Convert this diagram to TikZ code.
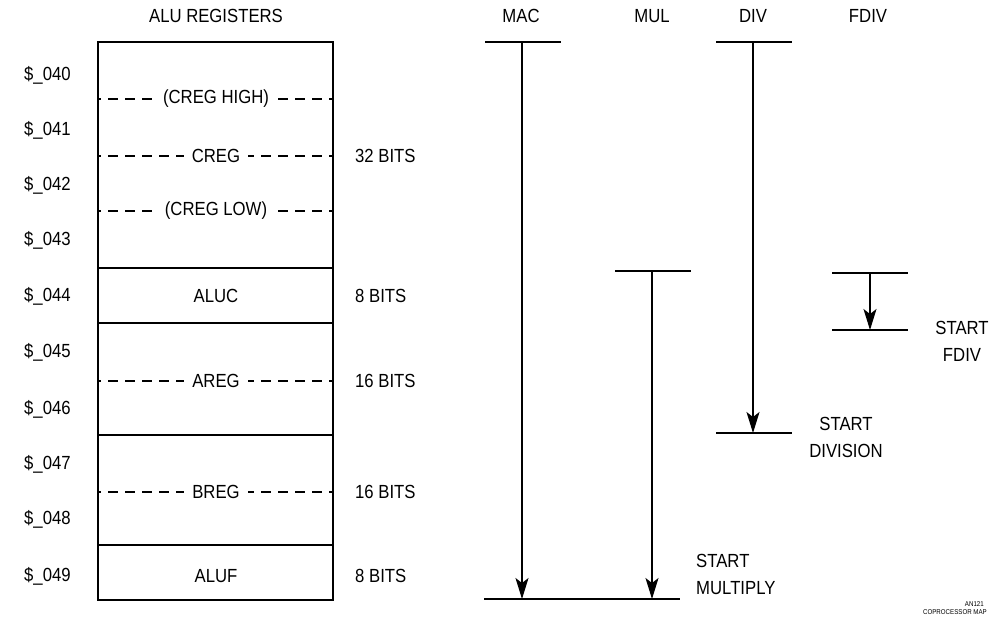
\documentclass[tikz,border=0pt]{standalone}
\usepackage{fontspec}
\setmainfont[FakeStretch=0.88]{Liberation Sans}
\usetikzlibrary{arrows.meta}
\begin{document}
\begin{tikzpicture}[x=1pt, y=-1pt,
  every node/.style={font=\fontsize{19}{27}\selectfont, inner sep=1pt},
  regline/.style={line width=1.2pt},
  dashline/.style={line width=1.2pt, dash pattern=on 10pt off 7pt, dash phase=7pt},
  timeline/.style={line width=1.2pt},
  arrowline/.style={line width=1.1pt, -{Stealth[length=21pt, width=13pt, inset=5pt]}}]
  \useasboundingbox (0,0) rectangle (989,619);
  % register block
  \node (title) at (216,16) {ALU REGISTERS};
  \draw[line width=2pt] (98,42) rectangle (333,600);
  \foreach \y in {268,323,435,545}
    \draw[regline] (98,\y) -- (333,\y);
  \foreach \n/\y in {040/75,041/130,042/185,043/240,044/296,045/352,046/409,047/464,048/519,049/576}
    \node[anchor=west] (addr\n) at (23,\y) {\$\_\n};
  \foreach \y/\t [count=\k] in {99/(CREG HIGH),156/CREG,211/(CREG LOW),381/AREG,492/BREG} {
    \draw[dashline] (98,\y) -- (333,\y);
    \node[fill=white, inner xsep=8pt, inner ysep=2pt] (reg\k) at (216,\y) {\t};
  }
  \node (aluc) at (216,296) {ALUC};
  \node (aluf) at (216,576) {ALUF};
  \foreach \y/\t [count=\k] in {156/32 BITS,296/8 BITS,381/16 BITS,492/16 BITS,576/8 BITS}
    \node[anchor=west] (bits\k) at (354,\y) {\t};
  % timing
  \node (mac) at (521,16) {MAC};
  \node (mul) at (652,16) {MUL};
  \node (div) at (753,16) {DIV};
  \node (fdiv) at (868,16) {FDIV};
  \coordinate (mactop) at (522,42);
  \coordinate (macend) at (522,599);
  \coordinate (multop) at (652,271);
  \coordinate (mulend) at (652,599);
  \coordinate (divtop) at (753,42);
  \coordinate (divend) at (753,433);
  \coordinate (fdivtop) at (870,273);
  \coordinate (fdivend) at (870,330);
  \draw[timeline] (485,42) -- (561,42);
  \draw[timeline] (615,271) -- (691,271);
  \draw[timeline] (716,42) -- (792,42);
  \draw[timeline] (832,273) -- (908,273);
  \draw[timeline] (484,599) -- (680,599);
  \draw[timeline] (716,433) -- (792,433);
  \draw[timeline] (832,330) -- (908,330);
  \draw[arrowline] (mactop) -- (macend);
  \draw[arrowline] (multop) -- (mulend);
  \draw[arrowline] (divtop) -- (divend);
  \draw[arrowline] (fdivtop) -- (fdivend);
  \node[anchor=west, align=left] (startmul) at (695,574) {START\\MULTIPLY};
  \node[align=center] (startdiv) at (846,437) {START\\DIVISION};
  \node[align=center] (startfdiv) at (962,341) {START\\FDIV};
  % figure tag
  \node[font=\fontsize{7}{8}\selectfont, anchor=east] (tagnum) at (985,604) {AN121};
  \node[font=\fontsize{7}{8}\selectfont, anchor=east] (tagname) at (988,612) {COPROCESSOR MAP};
\end{tikzpicture}
\end{document}
